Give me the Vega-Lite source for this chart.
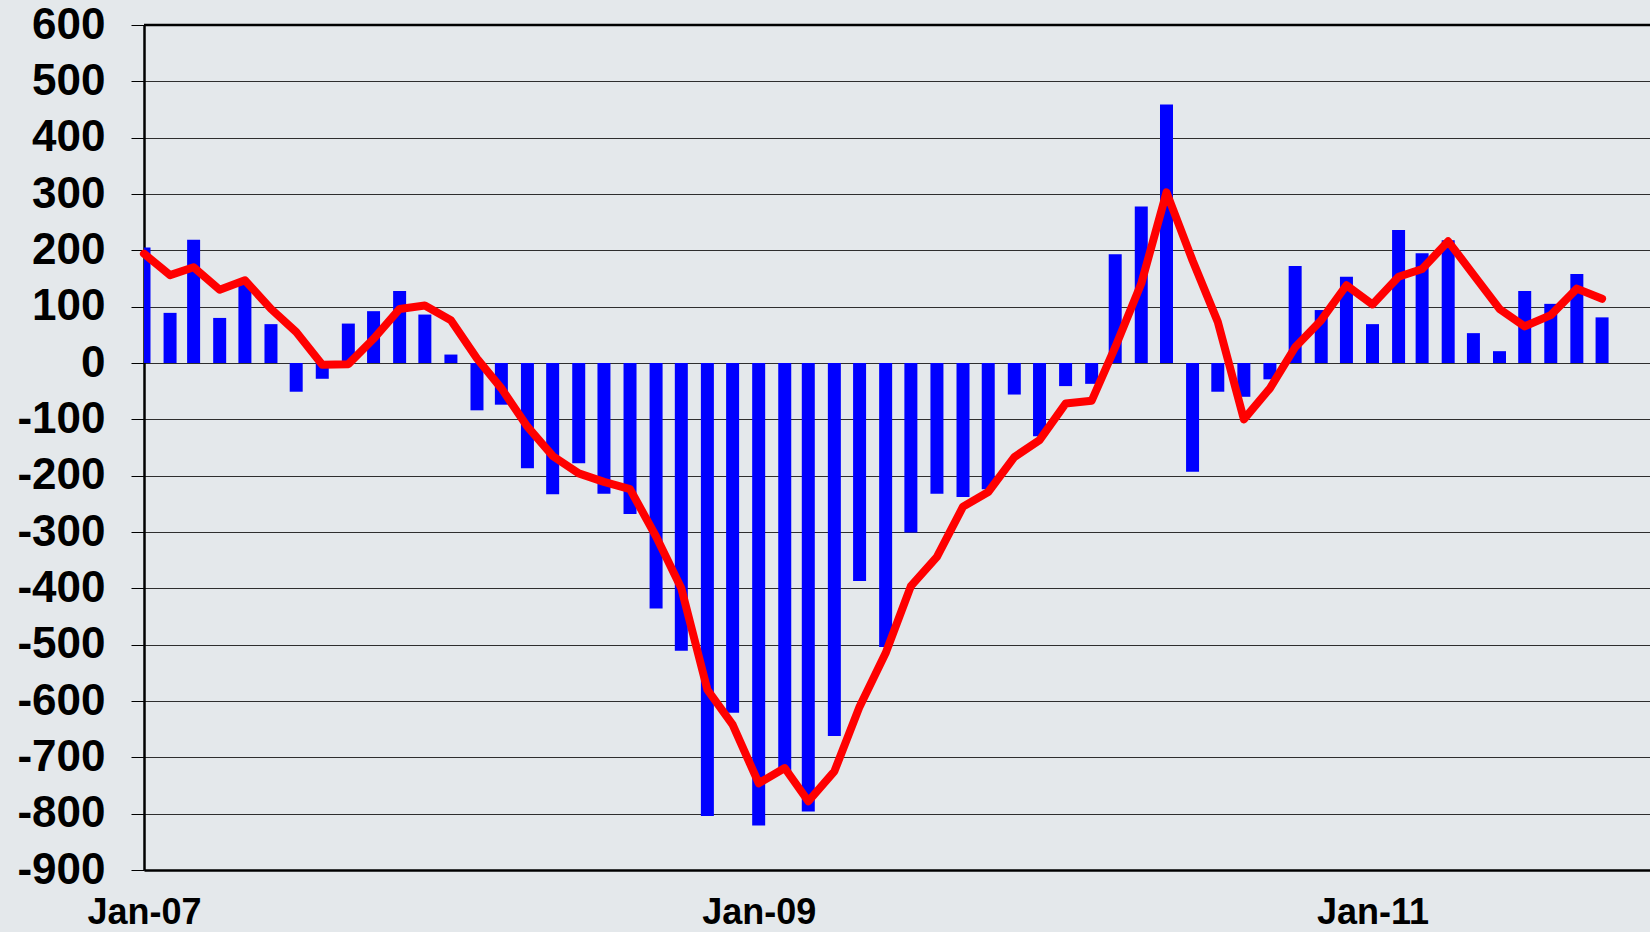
{
  "$schema": "https://vega.github.io/schema/vega-lite/v6.json",
  "width": 1506,
  "height": 845,
  "autosize": {"type": "none"},
  "padding": {"left": 144, "top": 25, "right": 0, "bottom": 62},
  "background": "#e4e8eb",
  "config": {
    "view": {"stroke": null},
    "font": "Liberation Sans"
  },
  "data": {
    "values": [
      {"d": "2007/01/01", "jobs": 205, "avg": 194},
      {"d": "2007/02/01", "jobs": 89, "avg": 156},
      {"d": "2007/03/01", "jobs": 219, "avg": 170},
      {"d": "2007/04/01", "jobs": 80, "avg": 130},
      {"d": "2007/05/01", "jobs": 141, "avg": 147},
      {"d": "2007/06/01", "jobs": 69, "avg": 96},
      {"d": "2007/07/01", "jobs": -51, "avg": 55},
      {"d": "2007/08/01", "jobs": -28, "avg": -3},
      {"d": "2007/09/01", "jobs": 70, "avg": -2},
      {"d": "2007/10/01", "jobs": 92, "avg": 43},
      {"d": "2007/11/01", "jobs": 128, "avg": 96},
      {"d": "2007/12/01", "jobs": 86, "avg": 102},
      {"d": "2008/01/01", "jobs": 15, "avg": 76},
      {"d": "2008/02/01", "jobs": -84, "avg": 8},
      {"d": "2008/03/01", "jobs": -74, "avg": -45},
      {"d": "2008/04/01", "jobs": -187, "avg": -113},
      {"d": "2008/05/01", "jobs": -233, "avg": -165},
      {"d": "2008/06/01", "jobs": -178, "avg": -196},
      {"d": "2008/07/01", "jobs": -232, "avg": -211},
      {"d": "2008/08/01", "jobs": -268, "avg": -224},
      {"d": "2008/09/01", "jobs": -436, "avg": -308},
      {"d": "2008/10/01", "jobs": -511, "avg": -400},
      {"d": "2008/11/01", "jobs": -804, "avg": -580},
      {"d": "2008/12/01", "jobs": -621, "avg": -642},
      {"d": "2009/01/01", "jobs": -821, "avg": -746},
      {"d": "2009/02/01", "jobs": -726, "avg": -719},
      {"d": "2009/03/01", "jobs": -796, "avg": -778},
      {"d": "2009/04/01", "jobs": -662, "avg": -725},
      {"d": "2009/05/01", "jobs": -387, "avg": -610},
      {"d": "2009/06/01", "jobs": -504, "avg": -515},
      {"d": "2009/07/01", "jobs": -301, "avg": -396},
      {"d": "2009/08/01", "jobs": -232, "avg": -344},
      {"d": "2009/09/01", "jobs": -238, "avg": -255},
      {"d": "2009/10/01", "jobs": -224, "avg": -229},
      {"d": "2009/11/01", "jobs": -56, "avg": -167},
      {"d": "2009/12/01", "jobs": -130, "avg": -137},
      {"d": "2010/01/01", "jobs": -41, "avg": -72},
      {"d": "2010/02/01", "jobs": -37, "avg": -67},
      {"d": "2010/03/01", "jobs": 193, "avg": 28},
      {"d": "2010/04/01", "jobs": 278, "avg": 141},
      {"d": "2010/05/01", "jobs": 459, "avg": 303},
      {"d": "2010/06/01", "jobs": -193, "avg": 182},
      {"d": "2010/07/01", "jobs": -51, "avg": 73},
      {"d": "2010/08/01", "jobs": -60, "avg": -100},
      {"d": "2010/09/01", "jobs": -29, "avg": -45},
      {"d": "2010/10/01", "jobs": 172, "avg": 28},
      {"d": "2010/11/01", "jobs": 94, "avg": 76},
      {"d": "2010/12/01", "jobs": 153, "avg": 138},
      {"d": "2011/01/01", "jobs": 69, "avg": 104},
      {"d": "2011/02/01", "jobs": 236, "avg": 153},
      {"d": "2011/03/01", "jobs": 195, "avg": 167},
      {"d": "2011/04/01", "jobs": 218, "avg": 216},
      {"d": "2011/05/01", "jobs": 53, "avg": 157},
      {"d": "2011/06/01", "jobs": 21, "avg": 96},
      {"d": "2011/07/01", "jobs": 128, "avg": 65},
      {"d": "2011/08/01", "jobs": 105, "avg": 85},
      {"d": "2011/09/01", "jobs": 158, "avg": 132},
      {"d": "2011/10/01", "jobs": 81, "avg": 114}
    ]
  },
  "layer": [
    {
      "mark": {"type": "bar", "color": "#0000ff", "size": 13, "clip": true},
      "encoding": {
        "x": {
          "field": "d",
          "type": "temporal",
          "title": null,
          "scale": {
            "domain": [
              {"year": 2007, "month": 1, "date": 1},
              {"year": 2011, "month": 11, "date": 27}
            ],
            "nice": false,
            "padding": 0
          },
          "axis": {
            "values": [
              {"year": 2007, "month": 1, "date": 1},
              {"year": 2009, "month": 1, "date": 1},
              {"year": 2011, "month": 1, "date": 1}
            ],
            "format": "%b-%y",
            "grid": false,
            "ticks": false,
            "domain": true,
            "domainColor": "#000000",
            "domainWidth": 2.5,
            "labelFont": "Liberation Sans",
            "labelFontWeight": "bold",
            "labelFontSize": 36,
            "labelColor": "#000000",
            "labelPadding": 25,
            "labelFlush": false,
            "labelOverlap": false,
            "labelAlign": "center"
          }
        },
        "y": {
          "field": "jobs",
          "type": "quantitative",
          "title": null,
          "scale": {"domain": [-900, 600], "nice": false, "zero": false},
          "axis": {
            "values": [-900, -800, -700, -600, -500, -400, -300, -200, -100, 0, 100, 200, 300, 400, 500, 600],
            "labelExpr": "toString(datum.value)",
            "grid": true,
            "gridColor": "#2e2e2e",
            "gridWidth": 1,
            "domain": true,
            "domainColor": "#000000",
            "domainWidth": 2.5,
            "ticks": true,
            "tickColor": "#000000",
            "tickSize": 13,
            "tickWidth": 1,
            "labelFont": "Liberation Sans",
            "labelFontWeight": "bold",
            "labelFontSize": 44,
            "labelColor": "#000000",
            "labelPadding": 26,
            "labelFlush": false,
            "labelOverlap": false
          }
        }
      }
    },
    {
      "mark": {"type": "line", "color": "#ff0000", "strokeWidth": 8, "strokeJoin": "round", "strokeCap": "round"},
      "encoding": {
        "x": {"field": "d", "type": "temporal"},
        "y": {"field": "avg", "type": "quantitative"}
      }
    },
    {
      "data": {"values": [{"top": 600}]},
      "mark": {"type": "rule", "color": "#000000", "strokeWidth": 2.5},
      "encoding": {
        "y": {"field": "top", "type": "quantitative"}
      }
    }
  ]
}
